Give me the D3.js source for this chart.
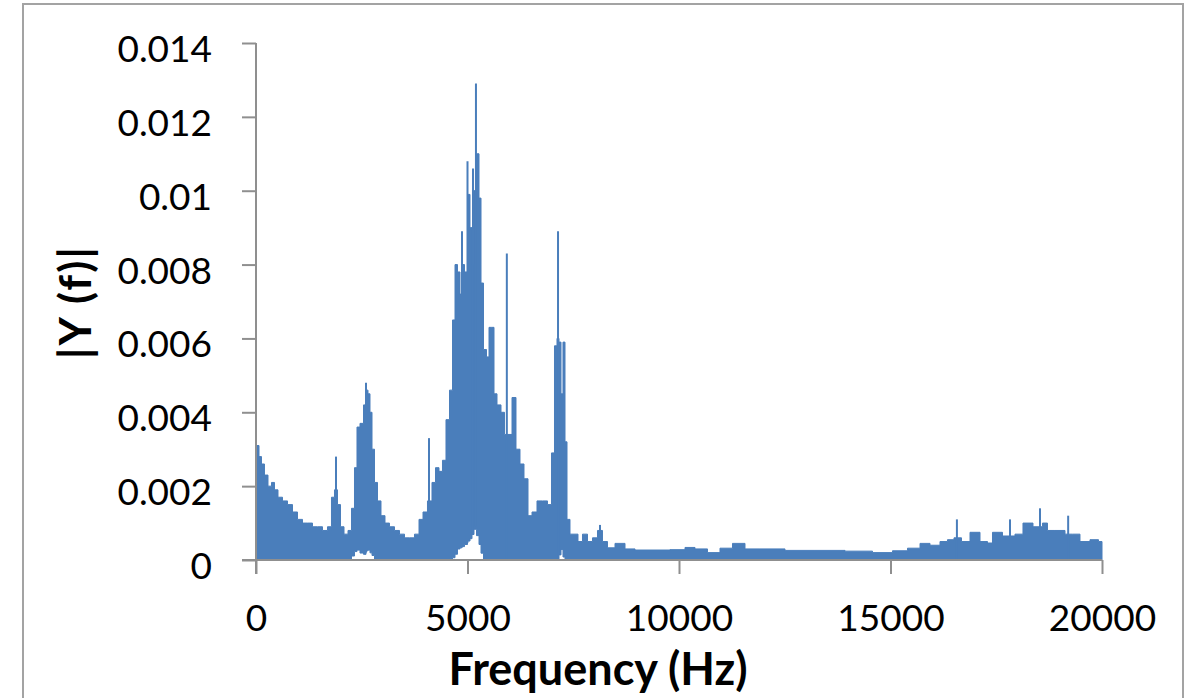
<!DOCTYPE html>
<html>
<head>
<meta charset="utf-8">
<script src="https://cdn.jsdelivr.net/npm/d3@7/dist/d3.min.js"></script>
<style>
  html, body { margin: 0; padding: 0; background: #fff; }
  svg { display: block; }
  text { font-family: Lato, "Open Sans", sans-serif; fill: #000; }
</style>
</head>
<body>
<svg id="chart" width="1197" height="698"></svg>
<script>
// ---- data ----
const xTicks = [0, 5000, 10000, 15000, 20000];
const yTicks = [0, 0.002, 0.004, 0.006, 0.008, 0.01, 0.012, 0.014];
const yTickLabels = ["0", "0.002", "0.004", "0.006", "0.008", "0.01", "0.012", "0.014"];

// upper envelope of the spectrum
const envFreq = [0,47,95,165,236,331,402,473,567,686,804,922,1040,1158,1277,1395,1513,1631,1749,1820,1891,1962,2033,2128,2222,2293,2364,2411,2506,2577,2624,2671,2719,2766,2837,2908,3002,3097,3215,3333,3452,3570,3688,3806,3901,3995,4113,4208,4279,4373,4444,4539,4610,4681,4728,4799,4846,4894,4965,5035,5083,5130,5177,5248,5296,5343,5414,5485,5532,5603,5650,5745,5839,5910,6005,6099,6194,6288,6383,6478,6572,6714,6832,6950,7021,7092,7139,7187,7234,7281,7329,7376,7470,7565,7659,7778,7896,8014,8132,8250,8369,8605,8842,9078,9551,10024,10260,10496,10851,11087,11442,11678,12151,12860,13570,14279,14870,15225,15580,15816,16052,16288,16406,16596,16761,16998,17234,17352,17470,17825,18061,18203,18534,18652,18770,19007,19243,19361,19598,19834,20000];
const envVal = [0.0031,0.0031,0.0028,0.0026,0.0023,0.0020,0.0021,0.0019,0.0017,0.0016,0.0015,0.0013,0.0011,0.0010,0.0010,0.0009,0.0009,0.0008,0.0009,0.0017,0.0019,0.0015,0.0009,0.0007,0.0008,0.0014,0.0025,0.0036,0.0037,0.0042,0.0046,0.0045,0.0040,0.0030,0.0021,0.0016,0.0012,0.0010,0.0009,0.0008,0.0007,0.0006,0.0006,0.0007,0.0011,0.0013,0.0016,0.0021,0.0025,0.0024,0.0027,0.0038,0.0046,0.0065,0.0080,0.0078,0.0072,0.0080,0.0078,0.0099,0.0090,0.0080,0.0100,0.0110,0.0098,0.0075,0.0057,0.0055,0.0063,0.0063,0.0045,0.0042,0.0040,0.0034,0.0034,0.0044,0.0030,0.0026,0.0022,0.0012,0.0013,0.0016,0.0016,0.0015,0.0029,0.0058,0.0060,0.0059,0.0045,0.0059,0.0032,0.0011,0.0007,0.0007,0.0005,0.0007,0.0005,0.0006,0.0008,0.0005,0.00033,0.00045,0.0003,0.00027,0.00027,0.00028,0.00034,0.0003,0.0002,0.00032,0.00045,0.0003,0.0003,0.00026,0.00026,0.00024,0.0002,0.00025,0.00032,0.00045,0.0004,0.0005,0.00055,0.0006,0.0005,0.00075,0.0005,0.00046,0.00075,0.00065,0.0007,0.0010,0.0009,0.0010,0.0008,0.0008,0.0007,0.0007,0.0005,0.00055,0.0005];

// lower edge of the filled band (white gaps near the baseline)
const lowFreq = [0,2250,2330,2450,2550,2650,2780,2830,4650,4800,4950,5100,5200,5280,5380,7150,7230,7300,20000];
const lowVal  = [0,0,0.0002,0.0003,0.0001,0.0003,0.0001,0,0,0.0003,0.0004,0.0006,0.0009,0.0005,0,0,0.0003,0,0];

// narrow spikes standing above the envelope
const spikeFreq = [0,1891,2600,4090,4870,5000,5130,5200,5930,7140,8132,16570,17825,18534,19200];
const spikeVal  = [0.0032,0.0028,0.0048,0.0033,0.0089,0.0108,0.0106,0.0129,0.0083,0.0089,0.00095,0.0011,0.0011,0.0014,0.0012];

// ---- drawing ----
const svg = d3.select("#chart");
const blue = "#4a7ebb";
const grey = "#8f8f8f";

svg.append("rect").attr("x", 23).attr("y", 4).attr("width", 1160).attr("height", 720)
  .attr("fill", "#fff").attr("stroke", "#a3a3a3").attr("stroke-width", 2);

const x = d3.scaleLinear().domain([0, 20000]).range([256, 1102]);
const y = d3.scaleLinear().domain([0, 0.014]).range([560, 43]);
const low = d3.scaleLinear().domain(lowFreq).range(lowVal);

const env = envFreq.map((f, i) => ({f, v: envVal[i]}));
const area = d3.area()
  .x(d => x(d.f))
  .y0(d => y(low(d.f)))
  .y1(d => y(d.v))
  .curve(d3.curveStep);

svg.append("path").datum(env).attr("d", area).attr("fill", blue)
  .attr("stroke", blue).attr("stroke-width", 1);

svg.append("g").selectAll("line").data(spikeFreq).join("line")
  .attr("x1", d => x(d)).attr("x2", d => x(d))
  .attr("y1", d => y(low(d)))
  .attr("y2", (d, i) => y(spikeVal[i]))
  .attr("stroke", blue).attr("stroke-width", 2);

// axes
const yAxis = svg.append("g").attr("transform", "translate(256,0)")
  .call(d3.axisLeft(y).tickValues(yTicks).tickSize(14).tickFormat((d, i) => yTickLabels[i]));
const xAxis = svg.append("g").attr("transform", "translate(0,560)")
  .call(d3.axisBottom(x).tickValues(xTicks).tickSize(14).tickFormat(d3.format("d")));

[yAxis, xAxis].forEach(g => {
  g.selectAll("line").attr("stroke", grey).attr("stroke-width", 2);
  g.selectAll("text").style("font-family", "Lato, sans-serif").style("font-size", "37px").attr("fill", "#000");
  g.select(".domain").remove();
});
svg.append("line").attr("x1", 256).attr("x2", 256).attr("y1", 43).attr("y2", 574)
  .attr("stroke", grey).attr("stroke-width", 2);
svg.append("line").attr("x1", 242).attr("x2", 1102).attr("y1", 560).attr("y2", 560)
  .attr("stroke", grey).attr("stroke-width", 2);

yAxis.selectAll("text").attr("x", -44).attr("dy", null).attr("y", 18.5);
xAxis.selectAll("text").attr("dy", null).attr("y", 71);

// axis titles
svg.append("text").attr("x", 598).attr("y", 685).attr("text-anchor", "middle")
  .style("font-weight", "bold").style("font-size", "45px").text("Frequency (Hz)");
svg.append("text").attr("transform", "translate(91,302) rotate(-90)").attr("text-anchor", "middle")
  .style("font-weight", "bold").style("font-size", "44px").style("letter-spacing", "2px").text("|Y (f)|");
</script>
</body>
</html>
